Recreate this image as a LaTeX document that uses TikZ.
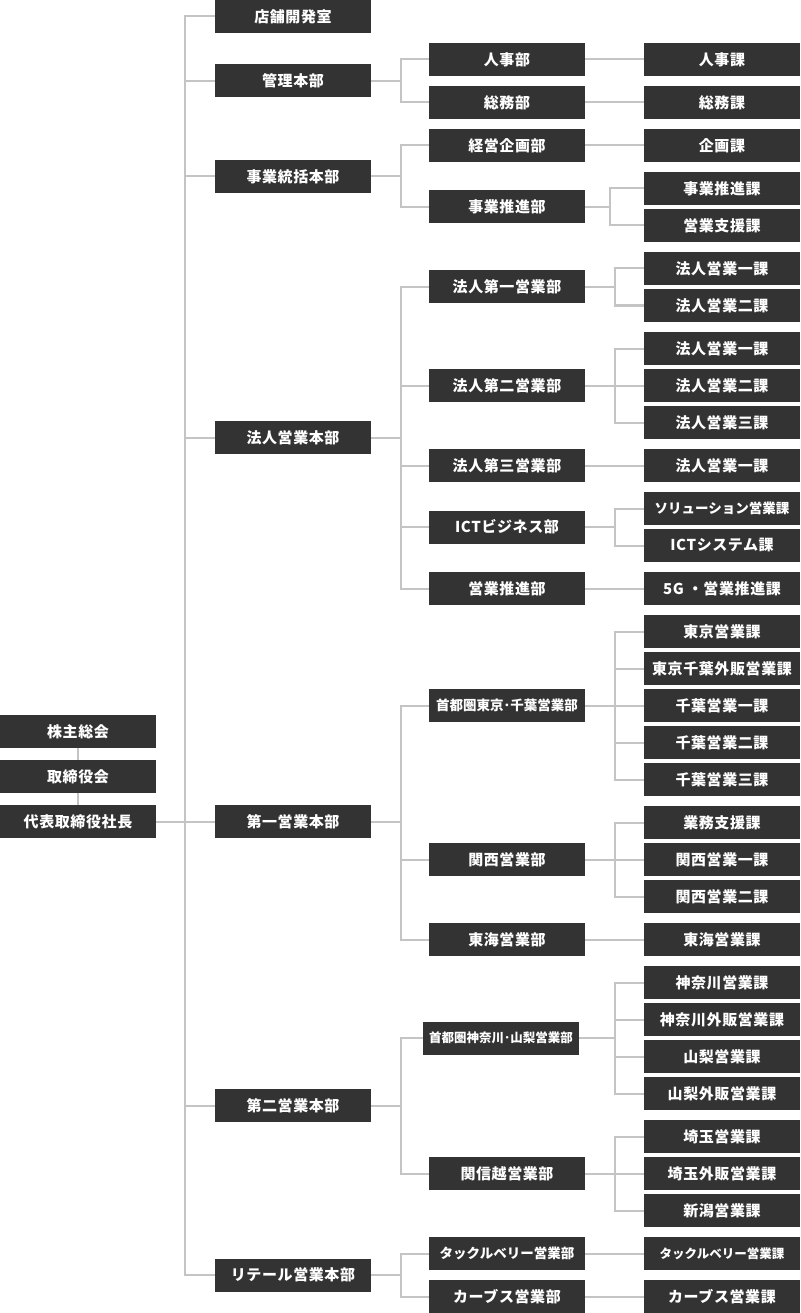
\documentclass[tikz,border=0pt]{standalone}
\usepackage{fontspec}
\setmainfont{Noto Sans CJK JP}[LetterSpace=4]
\newfontfamily\tightf{Noto Sans CJK JP}
\usetikzlibrary{backgrounds}
\definecolor{boxc}{RGB}{51,51,51}
\definecolor{linec}{RGB}{196,196,196}
\begin{document}
\begin{tikzpicture}[x=1pt,y=-1pt,
  box/.style={rectangle,fill=boxc,text=white,minimum width=156pt,minimum height=33pt,inner sep=0pt,font=\fontsize{15}{18}\selectfont\bfseries},
  smallbox/.style={font=\tightf\fontsize{13.5}{16}\selectfont\bfseries},
  tinybox/.style={font=\tightf\fontsize{12.5}{15}\selectfont\bfseries},
  link/.style={draw=linec,line width=2pt}]
\useasboundingbox (0,0) rectangle (800,1313);
% column 0
\node[box] (sh) at (78,731.5) {株主総会};
\node[box] (bd) at (78,776.5) {取締役会};
\node[box] (ceo) at (78,821.5) {代表取締役社長};
% column 1
\node[box] (a1) at (293,16.5) {店舗開発室};
\node[box] (a2) at (293,81) {管理本部};
\node[box] (a3) at (293,176.5) {事業統括本部};
\node[box] (a4) at (293,437.5) {法人営業本部};
\node[box] (a5) at (293,821.5) {第一営業本部};
\node[box] (a6) at (293,1105.5) {第二営業本部};
\node[box] (a7) at (293,1275) {リテール営業本部};
% column 2
\node[box] (b1) at (507,59.5) {人事部};
\node[box] (b2) at (507,102.5) {総務部};
\node[box] (b3) at (507,145.5) {経営企画部};
\node[box] (b4) at (507,207) {事業推進部};
\node[box] (b5) at (507,287) {法人第一営業部};
\node[box] (b6) at (507,385.5) {法人第二営業部};
\node[box] (b7) at (507,465.5) {法人第三営業部};
\node[box] (b8) at (507,527) {ICTビジネス部};
\node[box] (b9) at (507,588.5) {営業推進部};
\node[box,smallbox] (b10) at (507,705.5) {首都圏東京･千葉営業部};
\node[box] (b11) at (507,859.5) {関西営業部};
\node[box] (b12) at (507,939.5) {東海営業部};
\node[box,tinybox] (b13) at (501,1038) {首都圏神奈川･山梨営業部};
\node[box] (b14) at (507,1173.5) {関信越営業部};
\node[box,smallbox] (b15) at (507,1253.5) {タックルベリー営業部};
\node[box] (b16) at (507,1296.5) {カーブス営業部};
% column 3
\node[box] (c1) at (722,59.5) {人事課};
\node[box] (c2) at (722,102.5) {総務課};
\node[box] (c3) at (722,145.5) {企画課};
\node[box] (c4) at (722,188.5) {事業推進課};
\node[box] (c5) at (722,225.5) {営業支援課};
\node[box] (c6) at (722,268.5) {法人営業一課};
\node[box] (c7) at (722,305.5) {法人営業二課};
\node[box] (c8) at (722,348.5) {法人営業一課};
\node[box] (c9) at (722,385.5) {法人営業二課};
\node[box] (c10) at (722,422.5) {法人営業三課};
\node[box] (c11) at (722,465.5) {法人営業一課};
\node[box,smallbox] (c12) at (722,508.5) {ソリューション営業課};
\node[box] (c13) at (722,545.5) {ICTシステム課};
\node[box] (c14) at (722,588.5) {5G ・営業推進課};
\node[box] (c15) at (722,631.5) {東京営業課};
\node[box] (c16) at (722,668.5) {東京千葉外販営業課};
\node[box] (c17) at (722,705.5) {千葉営業一課};
\node[box] (c18) at (722,742.5) {千葉営業二課};
\node[box] (c19) at (722,779.5) {千葉営業三課};
\node[box] (c20) at (722,822.5) {業務支援課};
\node[box] (c21) at (722,859.5) {関西営業一課};
\node[box] (c22) at (722,896.5) {関西営業二課};
\node[box] (c23) at (722,939.5) {東海営業課};
\node[box] (c24) at (722,982.5) {神奈川営業課};
\node[box] (c25) at (722,1019.5) {神奈川外販営業課};
\node[box] (c26) at (722,1056.5) {山梨営業課};
\node[box] (c27) at (722,1093.5) {山梨外販営業課};
\node[box] (c28) at (722,1136.5) {埼玉営業課};
\node[box] (c29) at (722,1173.5) {埼玉外販営業課};
\node[box] (c30) at (722,1210.5) {新潟営業課};
\node[box,tinybox] (c31) at (722,1253.5) {タックルベリー営業課};
\node[box] (c32) at (722,1296.5) {カーブス営業課};
% spines
\coordinate (s1) at (185,0);
\coordinate (s2) at (401,0);
\coordinate (s3) at (615,0);
\coordinate (s3b) at (610,0);
\begin{scope}[on background layer]
\draw[link] (sh.south) -- (bd.north);
\draw[link] (bd.south) -- (ceo.north);
\foreach \c in {a1,a2,a3,a4,a5,a6,a7}
  \draw[link] (ceo.east) -- (ceo.east -| s1) |- (\c.west);
\foreach \p/\c in {a2/b1,a2/b2,a3/b3,a3/b4,a4/b5,a4/b6,a4/b7,a4/b8,a4/b9,a5/b10,a5/b11,a5/b12,a6/b13,a6/b14,a7/b15,a7/b16}
  \draw[link] (\p.east) -- (\p.east -| s2) |- (\c.west);
\foreach \p/\c in {b1/c1,b2/c2,b3/c3,b5/c6,b5/c7,b6/c8,b6/c9,b6/c10,b7/c11,b8/c12,b8/c13,b9/c14,b10/c15,b10/c16,b10/c17,b10/c18,b10/c19,b11/c20,b11/c21,b11/c22,b12/c23,b13/c24,b13/c25,b13/c26,b13/c27,b14/c28,b14/c29,b14/c30,b15/c31,b16/c32}
  \draw[link] (\p.east) -- (\p.east -| s3) |- (\c.west);
\foreach \c in {c4,c5}
  \draw[link] (b4.east) -- (b4.east -| s3b) |- (\c.west);
\end{scope}
\end{tikzpicture}
\end{document}
